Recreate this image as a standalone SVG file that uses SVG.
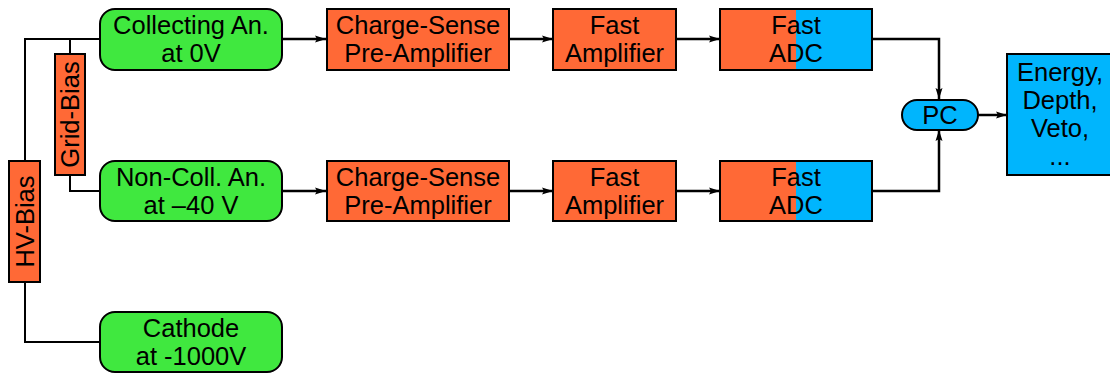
<svg xmlns="http://www.w3.org/2000/svg" width="1110" height="376" viewBox="0 0 1110 376">
<defs>
<style>
.t{font-family:"Liberation Sans",Arial,sans-serif;font-size:25.5px;fill:#000;text-anchor:middle}
.g{fill:#40e83f;stroke:#000;stroke-width:2}
.o{fill:#ff6936;stroke:#000;stroke-width:2}
.b{fill:#00b5fd;stroke:#000;stroke-width:2}
.w{fill:none;stroke:#000;stroke-width:2}
.c{fill:none;stroke:#000;stroke-width:2.5}
</style>
<marker id="ah" markerUnits="userSpaceOnUse" markerWidth="12" markerHeight="9" refX="11" refY="4.5" orient="auto">
<path d="M0,1 L11,4.5 L0,8 L2,4.5 z" fill="#000"/>
</marker>
</defs>
<g id="connectors">
<path class="w" d="M100,39 H25 V161"/>
<path class="w" d="M70,39 V54"/>
<path class="w" d="M70,175 V191 H100"/>
<path class="w" d="M25,282 V342 H100"/>
<path class="c" d="M282,39 H326" marker-end="url(#ah)"/>
<path class="c" d="M509,39 H553" marker-end="url(#ah)"/>
<path class="c" d="M676,39 H720" marker-end="url(#ah)"/>
<path class="c" d="M282,191 H326" marker-end="url(#ah)"/>
<path class="c" d="M509,191 H553" marker-end="url(#ah)"/>
<path class="c" d="M676,191 H720" marker-end="url(#ah)"/>
<path class="c" d="M872,39 H939 V99" marker-end="url(#ah)"/>
<path class="c" d="M872,191 H939 V130" marker-end="url(#ah)"/>
<path class="c" d="M978,115 H1007" marker-end="url(#ah)"/>
</g>
<g id="hv-bias">
<rect class="o" x="9" y="161" width="31" height="121"/>
<text class="t" transform="translate(33.6,221.5) rotate(-90)">HV-Bias</text>
</g>
<g id="grid-bias">
<rect class="o" x="55" y="54" width="30" height="121"/>
<text class="t" transform="translate(79.1,114.5) rotate(-90)">Grid-Bias</text>
</g>
<g id="collecting">
<rect class="g" x="100" y="9" width="182" height="61" rx="15"/>
<text class="t" x="191" y="34">Collecting An.</text>
<text class="t" x="191" y="62">at 0V</text>
</g>
<g id="noncoll">
<rect class="g" x="100" y="161" width="182" height="60" rx="15"/>
<text class="t" x="191" y="186">Non-Coll. An.</text>
<text class="t" x="191" y="214">at –40 V</text>
</g>
<g id="cathode">
<rect class="g" x="100" y="312" width="182" height="60" rx="15"/>
<text class="t" x="191" y="337">Cathode</text>
<text class="t" x="191" y="365">at -1000V</text>
</g>
<g id="cspa1">
<rect class="o" x="327" y="9" width="182" height="61"/>
<text class="t" x="418" y="34">Charge-Sense</text>
<text class="t" x="418" y="62">Pre-Amplifier</text>
</g>
<g id="famp1">
<rect class="o" x="553" y="9" width="123" height="61"/>
<text class="t" x="614.5" y="34">Fast</text>
<text class="t" x="614.5" y="62">Amplifier</text>
</g>
<g id="adc1">
<rect x="720" y="9" width="76" height="61" fill="#ff6936"/>
<rect x="796" y="9" width="76" height="61" fill="#00b5fd"/>
<rect class="w" x="720" y="9" width="152" height="61"/>
<text class="t" x="796" y="34">Fast</text>
<text class="t" x="796" y="62">ADC</text>
</g>
<g id="cspa2">
<rect class="o" x="327" y="161" width="182" height="60"/>
<text class="t" x="418" y="186">Charge-Sense</text>
<text class="t" x="418" y="214">Pre-Amplifier</text>
</g>
<g id="famp2">
<rect class="o" x="553" y="161" width="123" height="60"/>
<text class="t" x="614.5" y="186">Fast</text>
<text class="t" x="614.5" y="214">Amplifier</text>
</g>
<g id="adc2">
<rect x="720" y="161" width="76" height="60" fill="#ff6936"/>
<rect x="796" y="161" width="76" height="60" fill="#00b5fd"/>
<rect class="w" x="720" y="161" width="152" height="60"/>
<text class="t" x="796" y="186">Fast</text>
<text class="t" x="796" y="214">ADC</text>
</g>
<g id="pc">
<rect class="b" x="902" y="100" width="76" height="30" rx="15"/>
<text class="t" x="940" y="124">PC</text>
</g>
<g id="output">
<rect class="b" x="1007" y="54" width="108" height="121"/>
<text class="t" x="1060" y="81">Energy,</text>
<text class="t" x="1060" y="109">Depth,</text>
<text class="t" x="1060" y="137">Veto,</text>
<text class="t" x="1060" y="165">...</text>
</g>
</svg>
